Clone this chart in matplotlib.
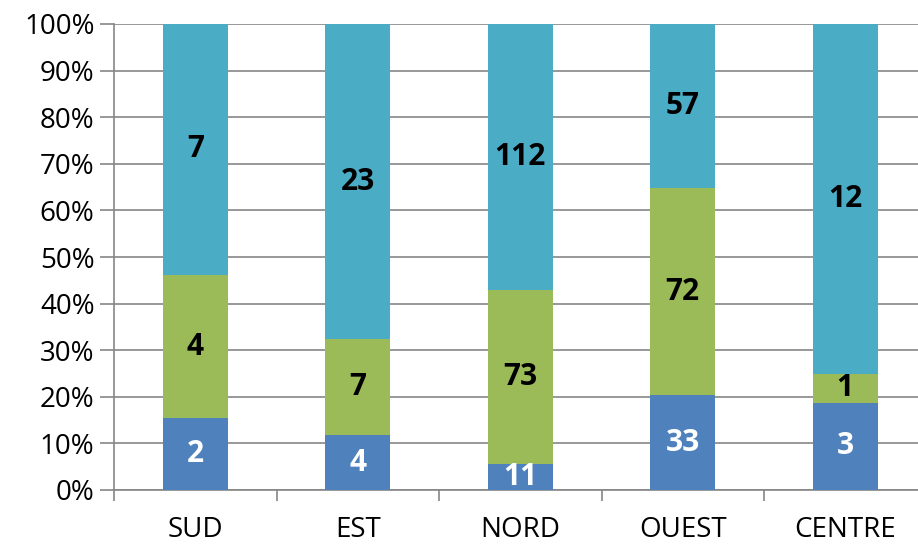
import matplotlib
matplotlib.use("Agg")
import matplotlib.pyplot as plt
import numpy as np
from matplotlib.ticker import PercentFormatter

categories = ["SUD", "EST", "NORD", "OUEST", "CENTRE"]
s1 = [2, 4, 11, 33, 3]
s2 = [4, 7, 73, 72, 1]
s3 = [7, 23, 112, 57, 12]
colors = ["#4F81BD", "#9BBB59", "#4BACC6"]
label_colors = ["white", "black", "black"]

plt.rcParams['font.family'] = ['Open Sans', 'DejaVu Sans']

fig = plt.figure(figsize=(9.18, 5.44), dpi=100)
W, H = 918, 544
ax = fig.add_axes([114/W, (H-490)/H, 812.5/W, 466/H])

data = np.array([s1, s2, s3], dtype=float)
totals = data.sum(axis=0)
pct = data / totals * 100
x = np.arange(len(categories))
bottom = np.zeros(len(categories))
for i in range(3):
    ax.bar(x, pct[i], bottom=bottom, width=0.4, color=colors[i], zorder=3)
    for j in range(len(categories)):
        ax.text(x[j], bottom[j] + pct[i][j] / 2, f"{int(data[i][j])}",
                ha='center', va='center', color=label_colors[i],
                fontsize=21.5, fontweight='bold', zorder=4)
    bottom += pct[i]

ax.set_xlim(-0.5, len(categories) - 0.5)
ax.set_ylim(0, 100)
ax.set_yticks(np.arange(0, 101, 10))
ax.yaxis.set_major_formatter(PercentFormatter(decimals=0))
ax.set_xticks(x)
ax.set_xticklabels(categories)
ax.set_xticks(np.arange(-0.5, len(categories), 1), minor=True)
ax.tick_params(axis='x', which='major', length=0, pad=19, labelsize=20)
ax.tick_params(axis='x', which='minor', length=8, color='#868686', width=1.2)
ax.tick_params(axis='y', length=10, color='#868686', width=1.2, labelsize=20, pad=4)
ax.grid(axis='y', color='#868686', linewidth=1.2, zorder=0)
for s in ['top', 'right']:
    ax.spines[s].set_visible(False)
for s in ['left', 'bottom']:
    ax.spines[s].set_color('#868686')
    ax.spines[s].set_linewidth(1.2)

fig.savefig("out.png", dpi=100)
